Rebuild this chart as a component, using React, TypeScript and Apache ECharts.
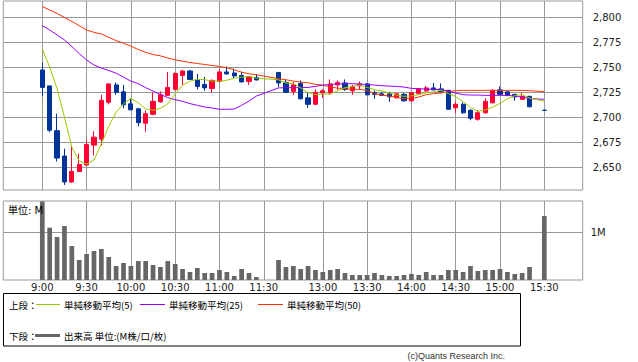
import React, { useEffect, useRef } from "react";
import * as echarts from "echarts";

// slot index 0 = 9:00 (5-minute bars); 30/31 = lunch gap, 67 = pre-close
const tickSlots = [0, 6, 12, 18, 24, 30, 38, 44, 50, 56, 62, 68];
const tickLabels = ["9:00", "9:30", "10:00", "10:30", "11:00", "11:30", "13:00", "13:30", "14:00", "14:30", "15:00", "15:30"];
const priceTicks = [2650, 2675, 2700, 2725, 2750, 2775, 2800];
const volTicks = [1];
const volTickLabels = ["1M"];

const opens = [2747.5, 2731.5, 2686.5, 2661, 2635, 2645.5, 2652, 2672, 2678, 2715,
  2732.5, 2725.5, 2713.5, 2708.5, 2694, 2703, 2715.5, 2722, 2728, 2742,
  2746.5, 2737.5, 2733, 2729, 2736, 2745.5, 2744.5, 2742, 2736, 2740,
  null, null, 2745, 2735, 2726, 2734, 2719.5, 2713, 2724.5, 2724.5,
  2732.5, 2734.5, 2726.5, 2731.5, 2733.5, 2724.5, 2723.5, 2723.5, 2719.5, 2723,
  2716.5, 2724, 2726.5, 2729.5, 2728.5, 2727, 2709.5, 2713, 2707, 2698,
  2704.5, 2714.5, 2727.5, 2725.5, 2723, 2718, 2721, null, 2707];
const closes = [2730, 2687, 2659, 2635, 2645.5, 2652.5, 2672.5, 2680, 2717, 2733.5,
  2725, 2712.5, 2707.5, 2694.5, 2703.5, 2716, 2722.5, 2730, 2744, 2746.5,
  2738, 2731, 2729.5, 2737, 2745.5, 2743.5, 2741.5, 2735.5, 2740.5, 2737.5,
  null, null, 2734.5, 2725, 2732.5, 2718.5, 2713, 2725, 2726.5, 2733.5,
  2735, 2728, 2731, 2733.5, 2722.5, 2723, 2722, 2720.5, 2723.5, 2716.5,
  2724.5, 2728.5, 2729.5, 2727.5, 2725.5, 2708, 2713, 2704.5, 2699, 2704.5,
  2716, 2727, 2723, 2722, 2720.5, 2721, 2710.5, null, 2707];
const lows = [2721, 2685, 2655.5, 2632, 2634, 2645, 2651.5, 2661.5, 2671.5, 2713,
  2722.5, 2709, 2707, 2691, 2685.5, 2702, 2714.5, 2721.5, 2727, 2732.5,
  2737.5, 2728, 2726.5, 2724.5, 2735, 2743, 2739, 2735, 2732.5, 2737,
  null, null, 2730.5, 2724.5, 2722.5, 2718, 2709.5, 2712.5, 2719.5, 2722.5,
  2727.5, 2726.5, 2722.5, 2728, 2722, 2718.5, 2721.5, 2715.5, 2719, 2715.5,
  2715.5, 2723, 2725.5, 2727, 2725, 2707.5, 2704.5, 2703.5, 2697, 2696.5,
  2703.5, 2714, 2722.5, 2721, 2716.5, 2717.5, 2710, null, 2707];
const highs = [2755, 2731.5, 2703.5, 2668.5, 2671, 2663.5, 2677.5, 2686, 2722.5, 2733.5,
  2735, 2732.5, 2719, 2708.5, 2707, 2725, 2726, 2745.5, 2745, 2747.5,
  2747.5, 2743.5, 2740.5, 2738, 2748, 2751, 2749, 2745.5, 2741, 2743.5,
  null, null, 2745.5, 2737.5, 2735.5, 2737, 2725, 2728, 2728, 2738,
  2737, 2738, 2732.5, 2736, 2734.5, 2727, 2725.5, 2725.5, 2724.5, 2724.5,
  2725.5, 2729.5, 2731.5, 2734.5, 2734, 2727.5, 2715.5, 2715, 2708, 2707,
  2719, 2728, 2731, 2726, 2723.5, 2724.5, 2721.5, null, 2707];

const ma5 = [2768.7, 2750.3, 2728.7, 2700.3, 2670, 2656, 2653, 2657, 2673.5, 2691,
  2705, 2713.5, 2719, 2714.5, 2708.5, 2707, 2709, 2713.5, 2723.5, 2732,
  2736.3, 2738, 2737.8, 2736.3, 2736.2, 2737.2, 2739.2, 2740.3, 2741, 2739.3,
  null, null, 2737.6, 2734.4, 2733.9, 2729.5, 2724.7, 2722.9, 2723.2, 2723.4,
  2726.7, 2729.7, 2730.8, 2732.3, 2730.1, 2727.7, 2726.5, 2724.3, 2722.3, 2721,
  2721.4, 2722.7, 2724.6, 2725.4, 2727.2, 2723.8, 2720.7, 2715.7, 2709.9, 2705.8,
  2707.4, 2710.2, 2713.9, 2718.5, 2721.7, 2722.7, 2719.3, null, 2716.1];
const ma25 = [2792, 2787.7, 2782.7, 2777.7, 2771, 2764, 2757.5, 2752.5, 2749.3, 2747,
  2744.3, 2740.3, 2736.3, 2733.7, 2729.7, 2726.3, 2723, 2719.7, 2717.7, 2716,
  2713.7, 2712, 2710.3, 2709.3, 2708, 2708, 2708.3, 2712, 2716.3, 2721.3,
  null, null, 2729.5, 2729.7, 2729.7, 2729.7, 2730, 2731, 2732.3, 2733,
  2733.3, 2733.7, 2733.7, 2733.3, 2733, 2732.3, 2731.7, 2731.3, 2731, 2730.3,
  2729, 2728.7, 2728.3, 2728, 2727.7, 2726.3, 2724.3, 2722.7, 2722.3, 2722.3,
  2722, 2722, 2722, 2722, 2721.3, 2720.3, 2718.7, null, 2718];
const ma50 = [2811.3, 2807.7, 2804.3, 2800.3, 2796.3, 2792, 2787.7, 2785.3, 2783.7, 2780.3,
  2777, 2774.3, 2771.5, 2768, 2765.3, 2763, 2761.7, 2759.5, 2757.7, 2756.3,
  2755, 2754, 2753, 2752, 2751, 2749.7, 2747.7, 2745.3, 2743.7, 2742.7,
  null, null, 2738.7, 2737.7, 2736.3, 2735.3, 2734.7, 2733, 2732.3, 2730.3,
  2729.3, 2728.7, 2728, 2728, 2727, 2723.7, 2722.3, 2721.3, 2720, 2718.7,
  2718.7, 2720.3, 2722.7, 2723.7, 2724.3, 2725.7, 2726.7, 2727, 2727, 2727,
  2727, 2727, 2727, 2727, 2727, 2727, 2726.7, null, 2725.7];
const volumes = [1.66, 1.106, 0.908, 1.141, 0.718, 0.423, 0.549, 0.613, 0.655, 0.486,
  0.296, 0.359, 0.296, 0.401, 0.401, 0.317, 0.275, 0.401, 0.338, 0.232,
  0.169, 0.254, 0.148, 0.148, 0.211, 0.169, 0.085, 0.232, 0.148, 0.063,
  null, null, 0.423, 0.275, 0.296, 0.232, 0.296, 0.211, 0.169, 0.211,
  0.232, 0.148, 0.106, 0.106, 0.106, 0.148, 0.106, 0.085, 0.085, 0.106,
  0.127, 0.106, 0.169, 0.106, 0.106, 0.211, 0.211, 0.169, 0.296, 0.19,
  0.211, 0.211, 0.232, 0.169, 0.127, 0.148, 0.275, null, 1.352];

const UP = "#ff0033";
const DOWN = "#003399";
const C5 = "#99cc00";
const C25 = "#9900ff";
const C50 = "#ff3300";
const GRID = "#999999";

function pairs(arr: (number | null)[]) {
  const out: number[][] = [];
  arr.forEach((v, i) => { if (v != null) out.push([i, v]); });
  return out;
}

export default function App() {
  const ref = useRef<HTMLDivElement>(null);
  useEffect(() => {
    if (!ref.current) return;
    const chart = echarts.init(ref.current, undefined, { renderer: "svg" });
    const candles: number[][] = [];
    opens.forEach((o, i) => {
      if (o != null) candles.push([i, o, closes[i] as number, lows[i] as number, highs[i] as number]);
    });
    const xMin = -5.283;
    const xMax = 73.2;
    const lbl = { fontFamily: "DejaVu Sans", fontSize: 10, color: "#222" };
    const cjk = "Noto Sans CJK JP";
    const option: any = {
      animation: false,
      grid: [
        { left: 3.3, top: 1, width: 579.4, height: 189, show: true, borderColor: GRID, borderWidth: 1, outerBoundsMode: "none", containLabel: false },
        { left: 3.3, top: 201, width: 579.4, height: 79, show: true, borderColor: GRID, borderWidth: 1, outerBoundsMode: "none", containLabel: false },
      ],
      xAxis: [
        {
          type: "value", gridIndex: 0, min: xMin, max: xMax,
          axisLine: { show: false },
          axisTick: { show: false, customValues: tickSlots },
          axisLabel: { show: false, customValues: tickSlots },
          splitLine: { show: true, customValues: tickSlots, lineStyle: { color: GRID, width: 1 } },
        },
        {
          type: "value", gridIndex: 1, min: xMin, max: xMax,
          axisLine: { show: false },
          axisTick: { show: false, customValues: tickSlots },
          axisLabel: {
            ...lbl, margin: 2, customValues: tickSlots,
            formatter: (v: number) => tickLabels[tickSlots.indexOf(Math.round(v))] ?? "",
          },
          splitLine: { show: true, customValues: tickSlots, lineStyle: { color: GRID, width: 1 } },
        },
      ],
      yAxis: [
        {
          type: "value", gridIndex: 0, position: "right", min: 2626.9, max: 2816.8, scale: true,
          axisLine: { show: false },
          axisTick: { show: false, customValues: priceTicks },
          axisLabel: {
            ...lbl, margin: 10, customValues: priceTicks,
            formatter: (v: number) => Math.round(v).toLocaleString("en-US"),
          },
          splitLine: { show: true, customValues: priceTicks, lineStyle: { color: GRID, width: 1 } },
        },
        {
          type: "value", gridIndex: 1, position: "right", min: 0, max: 1.67,
          axisLine: { show: false },
          axisTick: { show: true, customValues: volTicks, length: 6, lineStyle: { color: GRID } },
          axisLabel: {
            ...lbl, margin: 8, customValues: volTicks,
            formatter: (v: number) => volTickLabels[volTicks.indexOf(Math.round(v))] ?? "",
          },
          splitLine: { show: true, customValues: volTicks, lineStyle: { color: GRID, width: 1 } },
        },
      ],
      series: [
        {
          type: "candlestick", xAxisIndex: 0, yAxisIndex: 0, data: candles, barWidth: 4.7, z: 2,
          itemStyle: { color: UP, color0: DOWN, borderColor: UP, borderColor0: DOWN, borderWidth: 1 },
        },
        { type: "line", xAxisIndex: 0, yAxisIndex: 0, data: pairs(ma50), symbol: "none", lineStyle: { color: C50, width: 1 }, z: 3 },
        { type: "line", xAxisIndex: 0, yAxisIndex: 0, data: pairs(ma25), symbol: "none", lineStyle: { color: C25, width: 1 }, z: 3 },
        { type: "line", xAxisIndex: 0, yAxisIndex: 0, data: pairs(ma5), symbol: "none", lineStyle: { color: C5, width: 1 }, z: 3 },
        {
          type: "bar", xAxisIndex: 1, yAxisIndex: 1, data: pairs(volumes), barWidth: 4.7,
          itemStyle: { color: "#666666" },
        },
      ],
      graphic: [
        { type: "text", x: 8, y: 210, z: 100, style: { text: "単位: M", fontSize: 10, fontFamily: "DejaVu Sans, Noto Sans CJK JP", fill: "#000", verticalAlign: "middle" } },
        { type: "rect", z: 100, shape: { x: 3.5, y: 293.5, width: 517, height: 52.5 }, style: { fill: "none", stroke: "#000", lineWidth: 1 } },
        { type: "text", x: 9, y: 304.5, z: 100, style: { text: "上段：", fontSize: 9.5, fontFamily: cjk, fill: "#000", verticalAlign: "middle" } },
        { type: "line", z: 100, shape: { x1: 36, y1: 304.5, x2: 60, y2: 304.5 }, style: { stroke: C5, lineWidth: 1 } },
        { type: "text", x: 64, y: 304.5, z: 100, style: { text: "単純移動平均(5)", fontSize: 9.5, fontFamily: cjk, fill: "#000", verticalAlign: "middle" } },
        { type: "line", z: 100, shape: { x1: 140, y1: 304.5, x2: 165, y2: 304.5 }, style: { stroke: C25, lineWidth: 1 } },
        { type: "text", x: 169, y: 304.5, z: 100, style: { text: "単純移動平均(25)", fontSize: 9.5, fontFamily: cjk, fill: "#000", verticalAlign: "middle" } },
        { type: "line", z: 100, shape: { x1: 258, y1: 304.5, x2: 283, y2: 304.5 }, style: { stroke: C50, lineWidth: 1 } },
        { type: "text", x: 287, y: 304.5, z: 100, style: { text: "単純移動平均(50)", fontSize: 9.5, fontFamily: cjk, fill: "#000", verticalAlign: "middle" } },
        { type: "text", x: 9, y: 335.7, z: 100, style: { text: "下段：", fontSize: 9.5, fontFamily: cjk, fill: "#000", verticalAlign: "middle" } },
        { type: "line", z: 100, shape: { x1: 35, y1: 335.5, x2: 60, y2: 335.5 }, style: { stroke: "#666666", lineWidth: 3 } },
        { type: "text", x: 64, y: 335.7, z: 100, style: { text: "出来高 単位:(M株/口/枚)", fontSize: 9.5, fontFamily: cjk, fill: "#000", verticalAlign: "middle" } },
        { type: "text", x: 505, y: 356, z: 100, style: { text: "(c)Quants Research Inc.", fontSize: 9, fontFamily: "Liberation Sans", fill: "#333", align: "right", verticalAlign: "middle" } },
      ],
    };
    chart.setOption(option);
    return () => chart.dispose();
  }, []);
  return <div ref={ref} style={{ position: "absolute", left: 0, top: 0, width: 638, height: 362 }} />;
}
